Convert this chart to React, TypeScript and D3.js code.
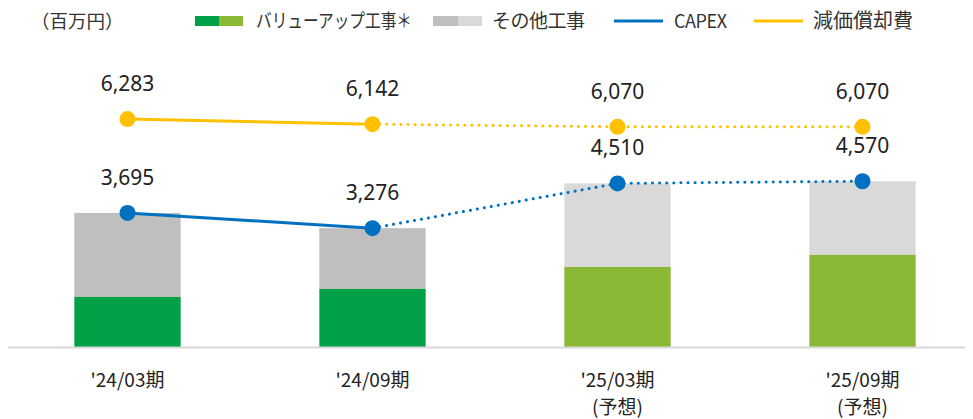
import React from "react";
import { scaleBand, scaleLinear, line, format } from "d3";

const categories = ["'24/03期", "'24/09期", "'25/03期", "'25/09期"];
const subLabels = ["", "", "(予想)", "(予想)"];
const valueUp = [1380, 1600, 2205, 2540];
const capex = [3695, 3276, 4510, 4570];
const depreciation = [6283, 6142, 6070, 6070];
const forecast = [false, false, true, true];

const W = 973;
const H = 419;
const FONT = "'Noto Sans CJK JP', 'Noto Sans', sans-serif";

function App() {
  const x = scaleBand<string>()
    .domain(categories)
    .range([5, 985])
    .paddingInner(0.566)
    .paddingOuter(0.283);

  const y = scaleLinear().domain([0, 8000]).range([347, 56.8]);
  const cx = (i: number) => (x(categories[i]) as number) + x.bandwidth() / 2;
  const fmt = format(",");

  // split each line into the actual (solid) part and the forecast (dotted) part
  const lastActual = forecast.lastIndexOf(false);
  const path = line<[number, number]>()
    .x((d) => cx(d[0]))
    .y((d) => y(d[1]));
  const pts = (vals: number[]) => vals.map((v, i) => [i, v] as [number, number]);

  const series = [
    { vals: depreciation, color: "#ffc000" },
    { vals: capex, color: "#0070c0" },
  ];

  return (
    <svg width={W} height={H} style={{ position: "absolute", left: 0, top: 0 }} fontFamily={FONT}>
      <rect width={W} height={H} fill="#fff" />

      {/* legend */}
      <text x={31} y={28} fontSize={18.5} fill="#333">（百万円）</text>
      <rect x={195} y={16} width={24} height={10} fill="#00a046" />
      <rect x={219} y={16} width={24} height={10} fill="#8cb935" />
      <text x={256} y={28} fontSize={19} fill="#333" textLength={156} lengthAdjust="spacingAndGlyphs">
        バリューアップ工事＊
      </text>
      <rect x={433} y={16} width={25} height={10} fill="#bfbfbf" />
      <rect x={458} y={16} width={24} height={10} fill="#d9d9d9" />
      <text x={492} y={28} fontSize={19} fill="#333" textLength={93}>その他工事</text>
      <line x1={614} x2={663} y1={21} y2={21} stroke="#0070c0" strokeWidth={3} />
      <text x={674} y={28} fontSize={18} fill="#333" textLength={53}>CAPEX</text>
      <line x1={754} x2={803} y1={21} y2={21} stroke="#ffc000" strokeWidth={3} />
      <text x={813} y={28} fontSize={20} fill="#333" textLength={100}>減価償却費</text>

      {/* bars */}
      {categories.map((c, i) => (
        <g key={c}>
          <rect
            x={x(c)}
            width={x.bandwidth()}
            y={y(capex[i])}
            height={y(valueUp[i]) - y(capex[i])}
            fill={forecast[i] ? "#d9d9d9" : "#bfbfbf"}
          />
          <rect
            x={x(c)}
            width={x.bandwidth()}
            y={y(valueUp[i])}
            height={y(0) - y(valueUp[i])}
            fill={forecast[i] ? "#8cb935" : "#00a046"}
          />
        </g>
      ))}

      <line x1={8} x2={965} y1={y(0) + 0.5} y2={y(0) + 0.5} stroke="#d9d9d9" strokeWidth={2} />

      {/* lines */}
      {series.map((s) => (
        <g key={s.color}>
          <path d={path(pts(s.vals).slice(0, lastActual + 1)) || ""} fill="none" stroke={s.color} strokeWidth={3} />
          <path
            d={path(pts(s.vals).slice(lastActual)) || ""}
            fill="none"
            stroke={s.color}
            strokeWidth={3}
            strokeDasharray="0.1 7"
            strokeLinecap="round"
          />
          {s.vals.map((v, i) => (
            <g key={i}>
              <circle cx={cx(i)} cy={y(v)} r={8} fill={s.color} />
              <text
                x={cx(i)}
                y={y(v) - 28}
                textAnchor="middle"
                fontSize={21}
                fontFamily="'Noto Sans', sans-serif"
                fill="#222"
              >
                {fmt(v)}
              </text>
            </g>
          ))}
        </g>
      ))}

      {/* x labels */}
      {categories.map((c, i) => (
        <g key={"l" + c}>
          <text x={cx(i)} y={387} textAnchor="middle" fontSize={19} fill="#222">
            {c}
          </text>
          {subLabels[i] && (
            <text x={cx(i)} y={414} textAnchor="middle" fontSize={19} fill="#222">
              {subLabels[i]}
            </text>
          )}
        </g>
      ))}
    </svg>
  );
}

export default App;
